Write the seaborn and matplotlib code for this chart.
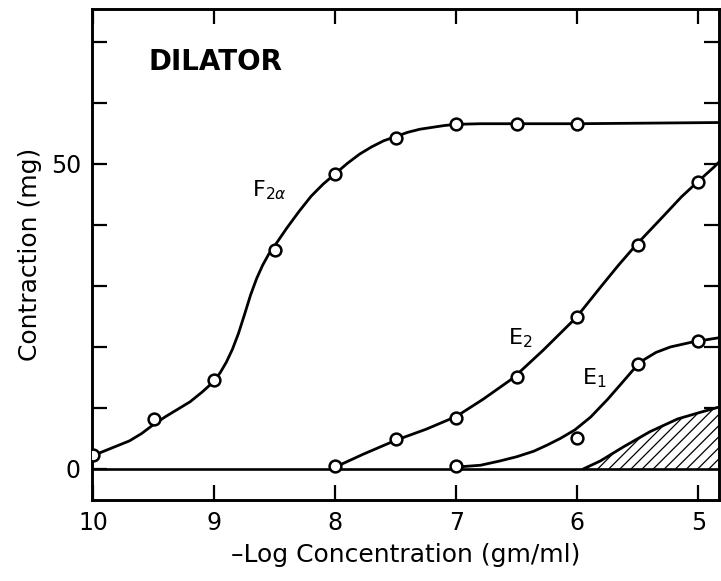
import numpy as np
import pandas as pd
import seaborn as sns
import matplotlib.pyplot as plt

# measured points (open circles)
f2a_x = [10.0, 9.5, 9.0, 8.5, 8.0, 7.5, 7.0, 6.5, 6.0]
f2a_y = [2.3, 8.2, 14.6, 35.9, 48.4, 54.3, 56.6, 56.6, 56.6]
e2_x = [8.0, 7.5, 7.0, 6.5, 6.0, 5.5, 5.0]
e2_y = [0.5, 4.9, 8.4, 15.0, 24.9, 36.7, 47.0]
e1_x = [7.0, 6.0, 5.5, 5.0]
e1_y = [0.4, 5.1, 17.2, 21.0]

# fitted curves
f2a_cx = [10.0, 9.9, 9.8, 9.7, 9.6, 9.5, 9.4, 9.3, 9.2, 9.1, 9.0, 8.95, 8.9,
          8.85, 8.8, 8.75, 8.7, 8.65, 8.6, 8.55, 8.5, 8.4, 8.3, 8.2, 8.1, 8.0,
          7.9, 7.8, 7.7, 7.6, 7.5, 7.4, 7.3, 7.2, 7.1, 7.0, 6.8, 6.0, 4.8]
f2a_cy = [2.2, 3.0, 3.8, 4.6, 5.8, 7.3, 8.6, 9.8, 11.0, 12.6, 14.4, 15.8, 17.5,
          19.6, 22.2, 25.3, 28.5, 31.2, 33.4, 35.2, 36.6, 39.5, 42.2, 44.7,
          46.7, 48.4, 50.1, 51.6, 52.8, 53.8, 54.5, 55.2, 55.7, 56.0, 56.3,
          56.5, 56.6, 56.6, 56.8]
e2_cx = [8.0, 7.77, 7.5, 7.25, 7.0, 6.78, 6.53, 6.28, 6.01, 5.8, 5.66, 5.52,
         5.31, 5.14, 5.01, 4.87, 4.8]
e2_cy = [0.3, 2.4, 4.7, 6.5, 8.6, 11.4, 14.9, 19.5, 24.8, 30.0, 33.4, 36.6,
         41.0, 44.6, 47.0, 49.5, 50.9]
e1_cx = [7.0, 6.8, 6.64, 6.5, 6.36, 6.25, 6.14, 6.02, 5.89, 5.75, 5.64, 5.54,
         5.45, 5.35, 5.23, 5.05, 4.8]
e1_cy = [0.3, 0.6, 1.3, 2.0, 2.9, 3.9, 5.0, 6.4, 8.5, 11.4, 13.9, 16.2,
         17.9, 19.1, 20.0, 20.8, 21.6]
# shaded (hatched) response
hatch_x = [5.95, 5.81, 5.62, 5.4, 5.17, 4.98, 4.8]
hatch_y = [0.0, 1.3, 3.6, 6.1, 8.2, 9.3, 10.3]

x_ticks = [10, 9, 8, 7, 6, 5]
y_ticks = [0, 10, 20, 30, 40, 50, 60, 70]
y_ticklabels = ["0", "", "", "", "", "50", "", ""]

sns.set_theme(style="ticks")
plt.rcParams['font.family'] = ['DejaVu Sans']
plt.rcParams['text.color'] = 'black'
plt.rcParams['axes.labelcolor'] = 'black'
plt.rcParams['xtick.color'] = 'black'
plt.rcParams['ytick.color'] = 'black'
plt.rcParams['axes.edgecolor'] = 'black'
plt.rcParams['hatch.linewidth'] = 0.9

curves = pd.concat([
    pd.DataFrame({"x": f2a_cx, "y": f2a_cy, "curve": "F2a"}),
    pd.DataFrame({"x": e2_cx, "y": e2_cy, "curve": "E2"}),
    pd.DataFrame({"x": e1_cx, "y": e1_cy, "curve": "E1"}),
    pd.DataFrame({"x": hatch_x, "y": hatch_y, "curve": "hatch"}),
], ignore_index=True)

pts = pd.DataFrame({
    "x": f2a_x + e2_x + e1_x,
    "y": f2a_y + e2_y + e1_y,
})

fig = plt.figure(figsize=(7.21, 5.81), dpi=100)
ax = fig.add_axes([0.1276, 0.1394, 0.8695, 0.845])

ax.axhline(0, color="black", lw=1.9, zorder=2)
ax.fill_between(hatch_x, 0, hatch_y, facecolor="white", edgecolor="black",
                hatch="///", lw=0, zorder=1)
sns.lineplot(data=curves, x="x", y="y", units="curve", estimator=None,
             sort=False, color="black", lw=2.0, ax=ax, zorder=3)
sns.scatterplot(data=pts, x="x", y="y", ax=ax, marker="o", s=72,
                facecolor="white", edgecolor="black", linewidth=1.8, zorder=4)

ax.set_xlim(10.01, 4.83)
ax.set_ylim(-5.1, 75.4)
ax.set_xticks(x_ticks)
ax.set_xticklabels([str(t) for t in x_ticks])
ax.set_yticks(y_ticks)
ax.set_yticklabels(y_ticklabels)
ax.tick_params(direction="in", length=11, width=1.6, labelsize=17,
               top=True, right=True, pad=8)
for s in ax.spines.values():
    s.set_linewidth(2.1)
    s.set_visible(True)

ax.set_xlabel("\u2013Log Concentration (gm/ml)", fontsize=18, labelpad=6)
ax.set_ylabel("Contraction (mg)", fontsize=18, labelpad=6)

ax.text(8.99, 66.7, "DILATOR", fontsize=20, fontweight="bold",
        ha="center", va="center")
ax.text(8.69, 45.7, r"F$_{2\alpha}$", fontsize=16, ha="left", va="center")
ax.text(6.57, 21.4, r"E$_2$", fontsize=16, ha="left", va="center")
ax.text(5.96, 14.8, r"E$_1$", fontsize=16, ha="left", va="center")

fig.savefig("out.png", dpi=100)
